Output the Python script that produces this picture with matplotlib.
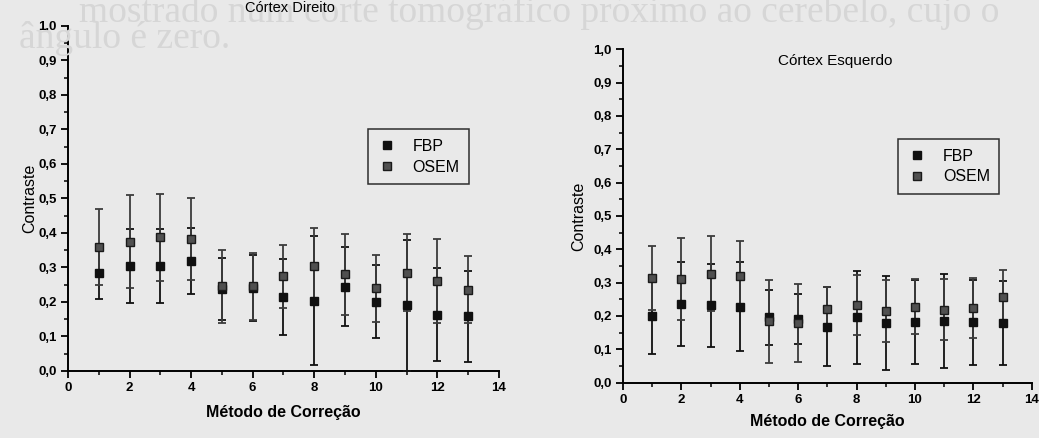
import matplotlib
matplotlib.use("Agg")
import matplotlib.pyplot as plt
from matplotlib.ticker import MultipleLocator, FuncFormatter

plt.rcParams['font.family'] = ['Liberation Sans', 'DejaVu Sans']

# Correction method index (1..13)
metodos = list(range(1, 14))

# Córtex Direito
dir_osem = [0.359, 0.375, 0.387, 0.382, 0.245, 0.245, 0.274, 0.304, 0.280, 0.240, 0.285, 0.262, 0.235]
dir_osem_err = [0.110, 0.134, 0.125, 0.118, 0.105, 0.098, 0.090, 0.109, 0.117, 0.097, 0.111, 0.122, 0.097]
dir_fbp = [0.283, 0.304, 0.305, 0.319, 0.238, 0.240, 0.214, 0.204, 0.244, 0.201, 0.190, 0.163, 0.158]
dir_fbp_err = [0.075, 0.108, 0.107, 0.096, 0.090, 0.095, 0.110, 0.187, 0.115, 0.105, 0.189, 0.135, 0.133]

# Córtex Esquerdo
esq_osem = [0.314, 0.311, 0.327, 0.321, 0.184, 0.180, 0.222, 0.233, 0.214, 0.228, 0.219, 0.223, 0.257]
esq_osem_err = [0.097, 0.124, 0.113, 0.105, 0.124, 0.117, 0.065, 0.089, 0.093, 0.082, 0.092, 0.090, 0.082]
esq_fbp = [0.199, 0.236, 0.232, 0.228, 0.196, 0.190, 0.168, 0.196, 0.179, 0.182, 0.185, 0.181, 0.179]
esq_fbp_err = [0.112, 0.125, 0.125, 0.133, 0.083, 0.075, 0.118, 0.139, 0.142, 0.126, 0.140, 0.128, 0.125]

BG = '#e9e9e9'
FBP_COLOR = '#101010'
OSEM_COLOR = '#3c3c3c'

fig = plt.figure(figsize=(10.39, 4.38), dpi=100, facecolor=BG)

# faint show-through text of the printed page behind the charts
serif = ['Liberation Serif', 'DejaVu Serif']
fig.text(0.962, 0.972, "mostrado num corte tomográfico próximo ao cerebelo, cujo o",
         family=serif, fontsize=27, color='#d6d6d6',
         ha='right', va='center', zorder=0)
fig.text(0.222, 0.912, "ângulo é zero.",
         family=serif, fontsize=27, color='#d6d6d6',
         ha='right', va='center', zorder=0)

comma = FuncFormatter(lambda v, p: f"{v:.1f}".replace('.', ','))


def style_axes(ax):
    ax.set_facecolor('none')
    ax.set_xlim(0, 14)
    ax.set_ylim(0, 1.0)
    for s in ('top', 'right'):
        ax.spines[s].set_visible(False)
    for s in ('left', 'bottom'):
        ax.spines[s].set_linewidth(1.4)
    ax.xaxis.set_major_locator(MultipleLocator(2))
    ax.xaxis.set_minor_locator(MultipleLocator(1))
    ax.yaxis.set_major_locator(MultipleLocator(0.1))
    ax.yaxis.set_minor_locator(MultipleLocator(0.05))
    ax.yaxis.set_major_formatter(comma)
    ax.tick_params(which='major', length=5, width=1.3, direction='out', labelsize=9.5, pad=3)
    ax.tick_params(which='minor', length=3, width=1.1, direction='out')
    for lab in ax.get_xticklabels() + ax.get_yticklabels():
        lab.set_fontweight('bold')


def draw(ax, fbp, fbp_err, osem, osem_err):
    ax.errorbar(metodos, fbp, yerr=fbp_err, fmt='s', color=FBP_COLOR, ms=5.5,
                elinewidth=1.3, capsize=2.8, capthick=1.3, label='FBP', zorder=3)
    ax.errorbar(metodos, osem, yerr=osem_err, fmt='s', color=OSEM_COLOR, mfc='#505050',
                mec='#1a1a1a', ms=5.5, elinewidth=1.3, capsize=2.8, capthick=1.3,
                label='OSEM', zorder=3)


def add_legend(ax, anchor):
    h, l = ax.get_legend_handles_labels()
    h = [hh[0] for hh in h]
    leg = ax.legend(h, l, loc='upper left', bbox_to_anchor=anchor, frameon=True,
                    fancybox=False, edgecolor='black', facecolor='none', fontsize=11.5,
                    handletextpad=1.0, borderpad=0.6, labelspacing=0.35,
                    handlelength=1.2, borderaxespad=0.0)
    leg.get_frame().set_linewidth(1.1)


# Left panel
ax1 = fig.add_axes([0.0654, 0.153, 0.4148, 0.7877])
draw(ax1, dir_fbp, dir_fbp_err, dir_osem, dir_osem_err)
style_axes(ax1)
ax1.set_xlabel('Método de Correção', fontsize=11.5, fontweight='bold', labelpad=8)
ax1.set_ylabel('Contraste', fontsize=11.5, labelpad=1)
fig.text(0.279, 0.981, 'Córtex Direito', fontsize=10.5, ha='center', va='center')
add_legend(ax1, (0.696, 0.70))

# Right panel
ax2 = fig.add_axes([0.5996, 0.1263, 0.3934, 0.7612])
draw(ax2, esq_fbp, esq_fbp_err, esq_osem, esq_osem_err)
style_axes(ax2)
ax2.set_xlabel('Método de Correção', fontsize=11.5, fontweight='bold', labelpad=6)
ax2.set_ylabel('Contraste', fontsize=11.5, labelpad=5)
ax2.text(0.52, 0.965, 'Córtex Esquerdo', fontsize=11, ha='center', va='center',
         transform=ax2.transAxes)
add_legend(ax2, (0.673, 0.73))

fig.savefig('out.png', dpi=100, facecolor=BG)
